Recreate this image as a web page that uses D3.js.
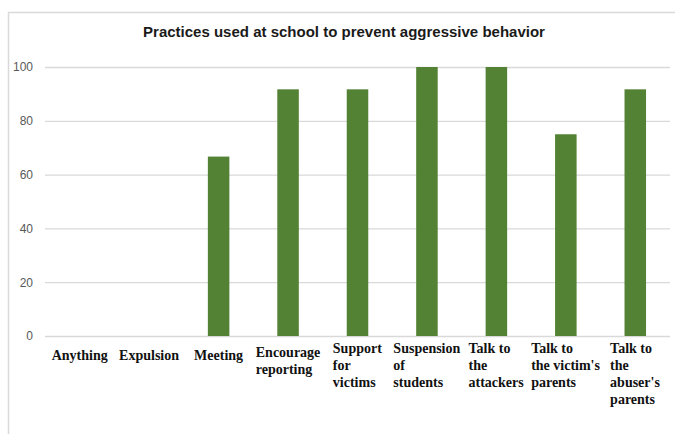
<!DOCTYPE html>
<html>
<head>
<meta charset="utf-8">
<script src="https://cdn.jsdelivr.net/npm/d3@7"></script>
<style>
  body { margin: 0; background: #fff; }
  svg { display: block; }
</style>
</head>
<body>
<div id="app"></div>
<script>
// data (percent of schools)
var categories = ['Anything', 'Expulsion', 'Meeting', 'Encourage reporting', 'Support for victims',
  'Suspension of students', 'Talk to the attackers', "Talk to the victim's parents", "Talk to the abuser's parents"]
var labelLines = [
  ['Anything'], ['Expulsion'], ['Meeting'], ['Encourage', 'reporting'], ['Support', 'for', 'victims'],
  ['Suspension', 'of', 'students'], ['Talk to', 'the', 'attackers'], ['Talk to', "the victim's", 'parents'],
  ['Talk to', 'the', "abuser's", 'parents']
]
var values = [0, 0, 66.7, 91.7, 91.7, 100, 100, 75, 91.7]
var yTicks = [0, 20, 40, 60, 80, 100]

var width = 675, height = 434

var svg = d3.select('#app')
  .append('svg')
  .attr('width', width)
  .attr('height', height)

// chart frame (only left and top edges are visible)
svg.append('path')
  .attr('d', 'M8.5,' + height + 'V12.5H' + width)
  .attr('fill', 'none')
  .attr('stroke', '#d9d9d9')
  .attr('stroke-width', 1.5)

svg.append('text')
  .attr('x', 344)
  .attr('y', 37)
  .attr('text-anchor', 'middle')
  .style('font-family', 'Liberation Sans Narrow, Liberation Sans, Arial, sans-serif')
  .style('font-weight', 'bold')
  .style('font-size', '15px')
  .attr('fill', '#1a1a1a')
  .text('Practices used at school to prevent aggressive behavior')

var x = d3.scaleBand()
  .domain(categories)
  .range([45, 670])
  .paddingInner(0.69)
  .paddingOuter(0.345)

var y = d3.scaleLinear()
  .domain([0, 100])
  .range([336, 67])

// gridlines + tick labels
var yAxis = svg.append('g')
  .attr('transform', 'translate(45,0)')
  .call(d3.axisLeft(y).tickValues(yTicks).tickSize(-625).tickPadding(12))

yAxis.select('.domain').remove()
yAxis.selectAll('.tick line')
  .attr('stroke', '#d9d9d9')
  .attr('stroke-width', 1.3)
yAxis.selectAll('.tick text')
  .attr('fill', '#595959')
  .style('font-family', 'Liberation Sans, Arial, sans-serif')
  .style('font-size', '12px')

svg.selectAll('.bar')
  .data(values)
  .enter()
  .append('rect')
  .attr('class', 'bar')
  .attr('x', (d, i) => x(categories[i]))
  .attr('width', x.bandwidth())
  .attr('y', d => y(d))
  .attr('height', d => y(0) - y(d))
  .attr('fill', '#548235')

// category labels: left aligned block, centred under the band
var lab = svg.selectAll('.lab')
  .data(categories)
  .enter()
  .append('text')
  .attr('class', 'lab')
  .style('font-family', 'Liberation Serif, Times New Roman, serif')
  .style('font-weight', 'bold')
  .style('font-size', '14px')
  .attr('fill', '#111')

lab.each(function (c, i) {
  var el = d3.select(this)
  var lines = labelLines[i]
  var first = lines.length >= 3 ? 353 : (lines.length == 2 ? 356.5 : 359.5)
  lines.forEach((t, j) => {
    el.append('tspan').attr('x', 0).attr('y', first + j * 17).text(t)
  })
  var w = this.getBBox().width
  el.selectAll('tspan').attr('x', x(c) + x.bandwidth() / 2 - w / 2)
})
</script>
</body>
</html>
